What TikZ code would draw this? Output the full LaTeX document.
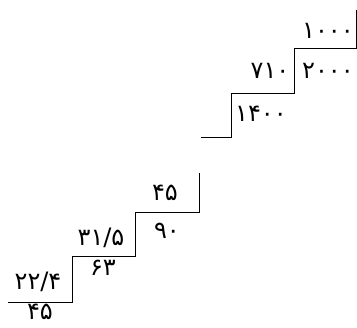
\documentclass[tikz,border=0pt]{standalone}
\usepackage{fontspec}
\newfontfamily\farsifont[Script=Arabic]{DejaVu Sans}
\tikzset{num/.style={font=\farsifont\fontsize{24}{28}\selectfont,inner sep=0pt}}

\begin{document}
\begin{tikzpicture}[x=1pt,y=-1pt,line width=0.9pt]
   \useasboundingbox (0,0) rectangle (357,328);
   % upper stairs
   \draw (356,10) -- (356,48) -- (294,48) -- (294,93) -- (231,93) -- (231,137) -- (201,137);
   \node[num] (ua) at (328,31) {۱۰۰۰};
   \node[num] (ub) at (270,71) {۷۱۰};
   \node[num] (uc) at (328,71) {۲۰۰۰};
   \node[num] (ud) at (261,114) {۱۴۰۰};
   % lower stairs
   \draw (199,173) -- (199,212) -- (135,212) -- (135,256) -- (72,256) -- (72,302) -- (8,302);
   \node[num] (la) at (165,193) {۴۵};
   \node[num] (lb) at (167,231) {۹۰};
   \node[num] (lc) at (101,238) {۳۱/۵};
   \node[num] (ld) at (103,268) {۶۳};
   \node[num] (le) at (38,282) {۲۲/۴};
   \node[num] (lf) at (40,312) {۴۵};
\end{tikzpicture}
\end{document}
